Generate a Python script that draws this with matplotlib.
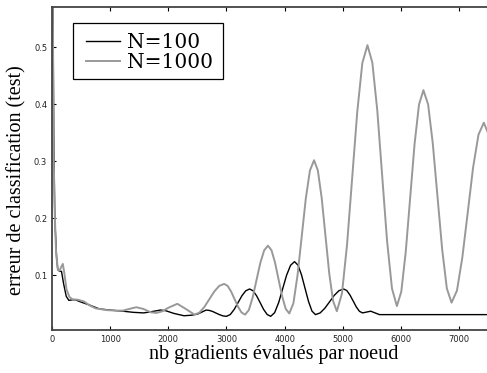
import numpy as np
import matplotlib
matplotlib.use("Agg")
import matplotlib.pyplot as plt
from matplotlib.patches import Rectangle

serif = ['Liberation Serif', 'DejaVu Serif']

# test error vs. gradients evaluated per node, N=100
x100 = [0, 15, 30, 45, 57, 80, 100, 130, 163, 200, 245, 290, 350, 400, 500, 640, 815,
        1000, 1220, 1400, 1575, 1700, 1865, 1950, 2100, 2270, 2400, 2505, 2650,
        2708, 2767, 2825, 2883, 2942, 3000,
        3066, 3132, 3199, 3265, 3331, 3397,
        3458, 3518, 3579, 3639, 3700, 3760,
        3828, 3897, 3965, 4033, 4102, 4170,
        4230, 4290, 4350, 4410, 4470, 4530,
        4611, 4692, 4773, 4853, 4934, 5015,
        5069, 5123, 5178, 5232, 5286, 5340,
        5410, 5480, 5555, 5630, 7700]
y100 = [0.9, 0.6, 0.35, 0.22, 0.18, 0.13, 0.11, 0.107, 0.107, 0.085, 0.063, 0.056, 0.057, 0.057, 0.053, 0.048, 0.041,
        0.039, 0.037, 0.035, 0.034, 0.036, 0.039, 0.038, 0.033, 0.029, 0.030, 0.032, 0.039,
        0.0383, 0.0363, 0.0335, 0.0308, 0.0287, 0.028,
        0.0312, 0.040, 0.052, 0.064, 0.0728, 0.076,
        0.0728, 0.064, 0.052, 0.040, 0.0312, 0.028,
        0.0344, 0.052, 0.076, 0.100, 0.1176, 0.124,
        0.1178, 0.1008, 0.0775, 0.0543, 0.0372, 0.031,
        0.034, 0.0423, 0.0535, 0.0648, 0.073, 0.076,
        0.0732, 0.0655, 0.055, 0.0445, 0.0368, 0.034,
        0.0355, 0.037, 0.034, 0.031, 0.031]

# same for N=1000
x1000 = [0, 15, 30, 50, 70, 100, 130, 160, 186, 210, 250, 300, 350, 450, 550, 650, 750,
         930, 1100, 1220, 1330, 1450, 1570, 1700, 1800, 1900, 2000, 2155, 2300, 2450,
         2535, 2620, 2705, 2790, 2875, 2960,
         3020, 3080, 3140, 3200, 3260, 3320,
         3385, 3451, 3516, 3582, 3648, 3713,
         3774, 3835, 3896, 3958, 4019, 4080,
         4151, 4222, 4293, 4364, 4435, 4506,
         4571, 4637, 4702, 4767, 4833, 4898,
         4986, 5073, 5161, 5249, 5336, 5424,
         5508, 5593, 5677, 5761, 5846, 5930,
         6006, 6082, 6158, 6234, 6310, 6386,
         6467, 6547, 6628, 6709, 6789, 6870,
         6963, 7055, 7148, 7240, 7333, 7425,
         7500, 7580, 7650]
y1000 = [0.95, 0.55, 0.3, 0.2, 0.14, 0.11, 0.108, 0.115, 0.12, 0.105, 0.075, 0.062, 0.058, 0.057, 0.054, 0.047, 0.042,
         0.039, 0.038, 0.038, 0.041, 0.044, 0.041, 0.035, 0.034, 0.037, 0.043, 0.050, 0.041, 0.031,
         0.0346, 0.0445, 0.058, 0.0715, 0.0814, 0.085,
         0.0814, 0.0715, 0.058, 0.0445, 0.0346, 0.031,
         0.0391, 0.0613, 0.0915, 0.1218, 0.1439, 0.152,
         0.144, 0.1223, 0.0925, 0.0628, 0.041, 0.033,
         0.051, 0.1003, 0.1675, 0.2348, 0.284, 0.302,
         0.2842, 0.2358, 0.1695, 0.1033, 0.0548, 0.037,
         0.0683, 0.1538, 0.2705, 0.3873, 0.4727, 0.504,
         0.4733, 0.3895, 0.275, 0.1605, 0.0767, 0.046,
         0.0714, 0.1408, 0.2355, 0.3303, 0.3996, 0.425,
         0.400, 0.3318, 0.2385, 0.1453, 0.077, 0.052,
         0.0732, 0.131, 0.210, 0.289, 0.3468, 0.368,
         0.349, 0.29, 0.225]

yticks = [0.1, 0.2, 0.3, 0.4, 0.5]
xticks = [0, 1000, 2000, 3000, 4000, 5000, 6000, 7000]

fig = plt.figure(figsize=(4.87, 3.73), dpi=100)
ax = fig.add_axes([52/487, 43/373, 0.91, 323/373])

ax.plot(x100, y100, color='black', lw=1.0, label='N=100')
ax.plot(x1000, y1000, color='#999999', lw=1.4, label='N=1000')

ax.set_xlim(0, 7620)
ax.set_ylim(0.004, 0.571)
ax.set_xticks(xticks)
ax.set_yticks(yticks)
ax.tick_params(direction='in', labelsize=6, length=3, width=0.8,
               top=True, right=True, colors='black')
ax.tick_params(axis='both', labelcolor='#222222')
for s in ax.spines.values():
    s.set_linewidth(1.3)
    s.set_color('#444444')

ax.set_xlabel('nb gradients évalués par noeud', family=serif, fontsize=14.5, labelpad=1)
ax.set_ylabel('erreur de classification (test)', family=serif, fontsize=14.5)
ax.yaxis.set_label_coords(-0.057, 0.464)

# legend without its own frame, boxed by a plain rectangle
leg = ax.legend(loc='upper left', prop={'family': 'DejaVu Serif', 'size': 14.5},
                frameon=False, handlelength=1.69, handletextpad=0.35,
                borderpad=0, labelspacing=0.05, borderaxespad=0,
                bbox_to_anchor=(0.0767, 0.918))
ax.add_patch(Rectangle((0.0474, 0.777), 0.3386, 0.173, transform=ax.transAxes,
                       fill=True, facecolor='white', edgecolor='black', lw=0.9,
                       zorder=4))
leg.set_zorder(5)

plt.savefig('out.png', dpi=100)
